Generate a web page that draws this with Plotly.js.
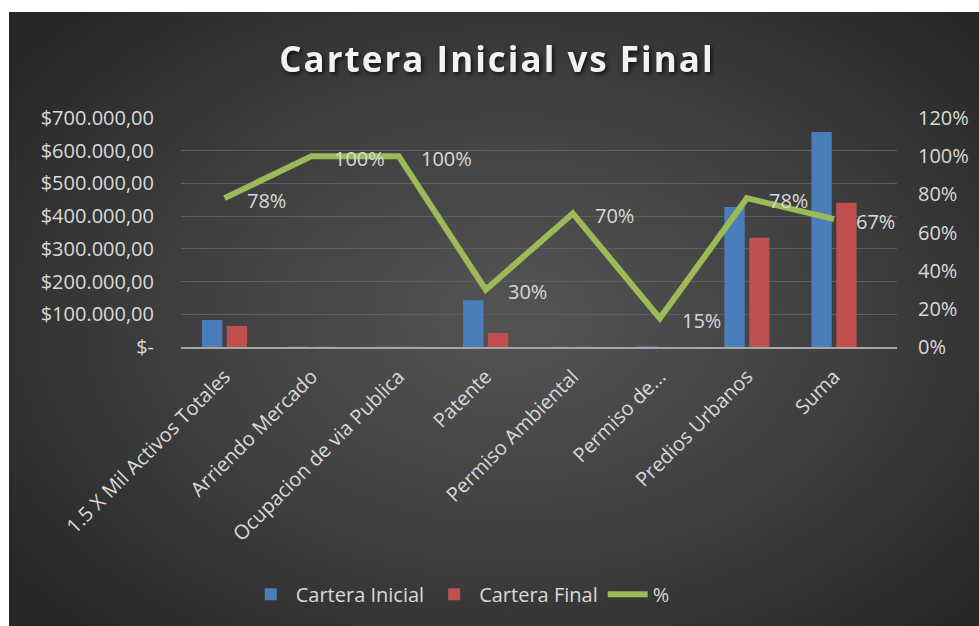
<!DOCTYPE html>
<html>
<head>
<meta charset="utf-8">
<script src="https://cdn.plot.ly/plotly-3.0.1.min.js"></script>
<style>
  html, body { margin: 0; padding: 0; background: #ffffff; }
  #chart {
    position: absolute;
    left: 9px;
    top: 12px;
    width: 970px;
    height: 614px;
    background: radial-gradient(ellipse 65% 70% at 52% 50%, #545454 0%, #3e3e3e 55%, #262626 100%);
  }
  #chart .gtitle {
    letter-spacing: 2px;
    filter: drop-shadow(2px 2px 2px rgba(0, 0, 0, 0.7));
  }
</style>
</head>
<body>
<div id="chart"></div>
<script>
// Datos del grafico
const categorias = [
  "1.5 X Mil Activos Totales",
  "Arriendo Mercado",
  "Ocupacion de via Publica",
  "Patente",
  "Permiso Ambiental",
  "Permiso de...",
  "Predios Urbanos",
  "Suma",
];
const carteraInicial = [82500, 1200, 900, 143000, 1000, 2000, 428000, 657000];
const carteraFinal = [64400, 1200, 900, 42900, 700, 300, 333800, 441000];
const porcentaje = [0.78, 1.0, 1.0, 0.3, 0.7, 0.15, 0.78, 0.67];
const etiquetasPct = ["78%", "100%", "100%", "30%", "70%", "15%", "78%", "67%"];

const ticksPesos = [0, 100000, 200000, 300000, 400000, 500000, 600000, 700000];
const textoPesos = [
  "$-",
  "$100.000,00",
  "$200.000,00",
  "$300.000,00",
  "$400.000,00",
  "$500.000,00",
  "$600.000,00",
  "$700.000,00",
];
const ticksPct = [0, 0.2, 0.4, 0.6, 0.8, 1.0, 1.2];
const textoPct = ["0%", "20%", "40%", "60%", "80%", "100%", "120%"];

const FUENTE = "Open Sans, Noto Sans, sans-serif";
const GRIS_TEXTO = "#d9d9d9";
const TAM = 20;

const trazaInicial = {
  type: "bar",
  name: "Cartera Inicial",
  x: categorias,
  y: carteraInicial,
  marker: { color: "#4a7ebb", line: { width: 0 } },
  hoverinfo: "skip",
};

const trazaFinal = {
  type: "bar",
  name: "Cartera Final",
  x: categorias,
  y: carteraFinal,
  marker: { color: "#c0504d", line: { width: 0 } },
  hoverinfo: "skip",
};

const trazaPct = {
  type: "scatter",
  mode: "lines",
  name: "%",
  x: categorias,
  y: porcentaje,
  yaxis: "y2",
  line: { color: "#9bbb59", width: 6, shape: "linear" },
  hoverinfo: "skip",
};

// Etiquetas de datos a la derecha de cada punto de la linea
const anotaciones = categorias.map((c, i) => ({
  x: c,
  y: porcentaje[i],
  xref: "x",
  yref: "y2",
  text: etiquetasPct[i],
  showarrow: false,
  xanchor: "left",
  yanchor: "middle",
  xshift: 20,
  yshift: -2,
  font: { family: FUENTE, size: TAM, color: GRIS_TEXTO },
}));

const layout = {
  width: 970,
  height: 614,
  paper_bgcolor: "rgba(0,0,0,0)",
  plot_bgcolor: "rgba(0,0,0,0)",
  margin: { l: 172, r: 82, t: 106, b: 279 },
  font: { family: FUENTE, size: TAM, color: GRIS_TEXTO },
  title: {
    text: "<b>Cartera Inicial vs Final</b>",
    font: { family: FUENTE, size: 35, color: "#f2f2f2" },
    x: 0.503,
    xanchor: "center",
    y: 0.922,
    yref: "container",
    yanchor: "middle",
  },
  barmode: "group",
  bargap: 0.43,
  bargroupgap: 0.18,
  showlegend: true,
  legend: {
    orientation: "h",
    x: 0.39,
    xanchor: "center",
    y: -1.08,
    yanchor: "middle",
    font: { family: FUENTE, size: TAM, color: GRIS_TEXTO },
    bgcolor: "rgba(0,0,0,0)",
    itemwidth: 40,
  },
  xaxis: {
    type: "category",
    tickangle: -45,
    showgrid: false,
    showline: true,
    linecolor: "#a6a6a6",
    linewidth: 2,
    ticks: "",
    ticklabelstandoff: 8,
    tickfont: { family: FUENTE, size: TAM, color: GRIS_TEXTO },
    fixedrange: true,
  },
  yaxis: {
    range: [0, 700000],
    tickvals: ticksPesos,
    ticktext: textoPesos,
    showgrid: true,
    gridcolor: "#5e5e5e",
    gridwidth: 1,
    zeroline: false,
    ticks: "",
    ticklabelstandoff: 26,
    tickfont: { family: FUENTE, size: TAM, color: GRIS_TEXTO },
    fixedrange: true,
  },
  yaxis2: {
    overlaying: "y",
    side: "right",
    range: [0, 1.2],
    tickvals: ticksPct,
    ticktext: textoPct,
    showgrid: false,
    zeroline: false,
    ticks: "",
    ticklabelstandoff: 20,
    tickfont: { family: FUENTE, size: TAM, color: GRIS_TEXTO },
    fixedrange: true,
  },
  annotations: anotaciones,
};

Plotly.newPlot("chart", [trazaInicial, trazaFinal, trazaPct], layout, {
  displayModeBar: false,
  staticPlot: true,
});
</script>
</body>
</html>
